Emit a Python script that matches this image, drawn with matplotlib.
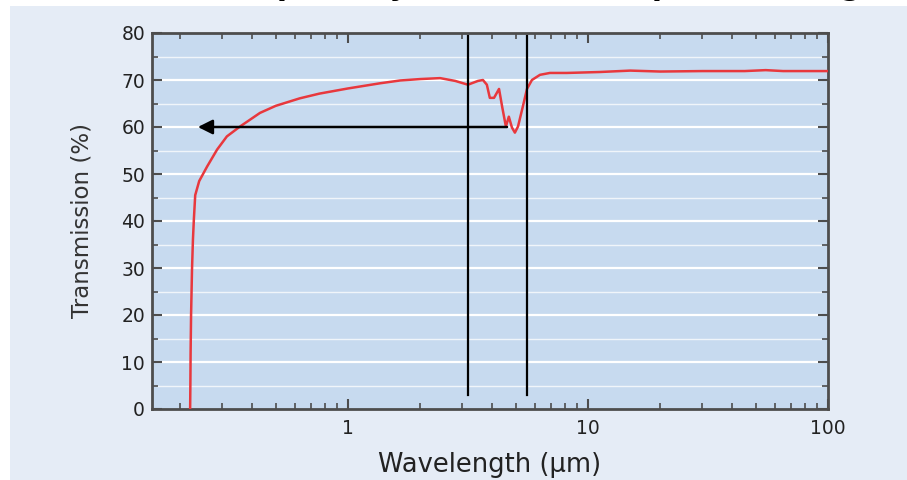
import numpy as np
import matplotlib.pyplot as plt
from matplotlib.patches import Rectangle
from matplotlib.ticker import FixedLocator, NullFormatter, LogLocator

# transmission curve
wavelength = [0.220, 0.2205, 0.221, 0.222, 0.224, 0.226, 0.228, 0.231, 0.240, 0.259,
              0.285, 0.313, 0.355, 0.43, 0.50, 0.63, 0.76, 1.0, 1.36, 1.65,
              2.0, 2.42, 2.8, 3.16, 3.48, 3.65, 3.79, 3.90, 4.06, 4.26,
              4.39, 4.55, 4.68, 4.82, 4.96, 5.11, 5.35, 5.57, 5.84, 6.31,
              6.94, 8.17, 11.2, 15.0, 20.0, 30.0, 45.0, 55.0, 65.0, 100.0]
transmission = [0.0, 5.0, 12.0, 20.0, 29.7, 36.0, 40.3, 45.5, 48.5, 51.6,
                55.2, 58.0, 60.1, 63.0, 64.5, 66.1, 67.1, 68.2, 69.3, 69.9,
                70.2, 70.4, 69.8, 69.0, 69.8, 70.0, 69.0, 66.2, 66.2, 68.1,
                64.3, 60.1, 62.2, 59.9, 58.8, 60.1, 64.3, 68.1, 70.0, 71.1,
                71.5, 71.5, 71.7, 72.0, 71.8, 71.9, 71.9, 72.1, 71.9, 71.9]

marker_lines = [3.16, 5.57]
arrow_start = 4.6
arrow_end = 0.237
arrow_level = 60

y_ticks = [0, 10, 20, 30, 40, 50, 60, 70, 80]
x_ticks = [1, 10, 100]
x_tick_labels = ['1', '10', '100']

W, H = 907, 480
fig = plt.figure(figsize=(W / 100, H / 100), dpi=100)
fig.patch.set_facecolor('white')
fig.patches.append(Rectangle((10 / W, 0), 1, 474 / H, transform=fig.transFigure,
                             facecolor='#e5ecf6', edgecolor='none', zorder=-5))

# title is cut off by the top edge, only descenders show
fig.text(0.53, 1.0105, 'Broad Transparency Window and Spectral Range',
         ha='center', va='baseline', fontsize=21, fontweight='bold',
         family='DejaVu Sans', color='black')

ax = fig.add_axes([152 / W, 71 / H, (828 - 152) / W, (409 - 33) / H])
ax.set_facecolor('#c7daef')
ax.set_xscale('log')
ax.set_xlim(0.1526, 100)
ax.set_ylim(0, 80)

for v in range(5, 80, 5):
    major = v % 10 == 0
    ax.axhline(v, xmin=0.008, xmax=0.99, color='white',
               lw=1.6 if major else 1.0, alpha=1.0 if major else 0.75, zorder=1)

ax.plot(wavelength, transmission, color='#e8383d', lw=1.8, zorder=3)

for x in marker_lines:
    ax.plot([x, x], [3, 79.4], color='black', lw=1.6, zorder=4)

ax.annotate('', xy=(arrow_end, arrow_level), xytext=(arrow_start, arrow_level),
            arrowprops=dict(arrowstyle='-|>', color='black', lw=1.8,
                            mutation_scale=22, shrinkA=0, shrinkB=0), zorder=5)

spine_col = '#4d4d4d'
for s in ax.spines.values():
    s.set_color(spine_col)
    s.set_linewidth(2)

ax.xaxis.set_major_locator(FixedLocator(x_ticks))
ax.set_xticklabels(x_tick_labels)
ax.xaxis.set_minor_locator(LogLocator(base=10, subs=np.arange(2, 10)))
ax.xaxis.set_minor_formatter(NullFormatter())
ax.set_yticks(y_ticks)
ax.set_yticks(range(5, 80, 10), minor=True)

ax.tick_params(which='both', direction='in', top=True, right=True, colors=spine_col,
               labelcolor='#222222', labelsize=13.5)
ax.tick_params(which='major', length=7, width=1.5)
ax.tick_params(which='minor', length=4, width=1.2)
ax.tick_params(axis='y', which='both', right=True, labelright=False, pad=5)
ax.tick_params(axis='x', pad=7)
for lab in ax.get_xticklabels() + ax.get_yticklabels():
    lab.set_family('DejaVu Sans')

ax.set_xlabel('Wavelength (µm)', fontsize=18.5, family='DejaVu Sans', color='#222222', labelpad=10)
ax.set_ylabel('Transmission (%)', fontsize=16.5, family='DejaVu Sans', color='#333333', labelpad=20)

fig.savefig('out.png', dpi=100)
